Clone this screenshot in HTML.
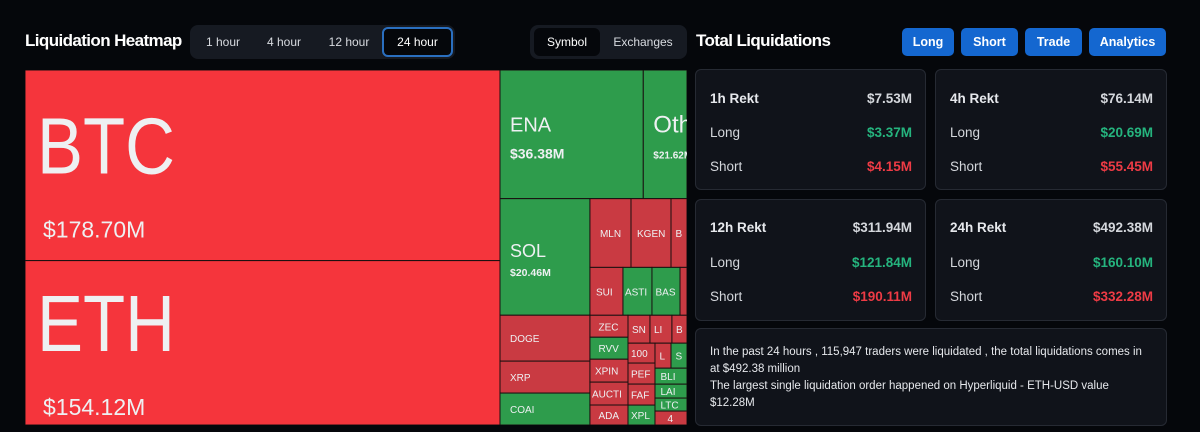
<!DOCTYPE html>
<html><head><meta charset="utf-8"><style>
*{box-sizing:border-box;margin:0;padding:0}
body{width:1200px;height:432px;background:#05070b;font-family:"Liberation Sans",sans-serif;color:#e6e8ec;position:relative;overflow:hidden}
.abs{position:absolute}
.title{font-weight:bold;font-size:17px;letter-spacing:-0.6px;color:#fff}
.seg{background:#161a22;border-radius:8px;height:34px}
.seg span{position:absolute;top:0;height:34px;line-height:34px;font-size:12px;color:#d8dbe0;text-align:center}
.btn{background:#1467d0;color:#fff;font-weight:bold;font-size:12.5px;border-radius:5px;height:28px;line-height:28px;text-align:center}
.card{background:#10131a;border:1px solid #262a33;border-radius:6px}
.row{position:absolute;left:14px;right:13px;font-size:13.5px;color:#d4d7dc}
.row b{color:#e6e8ec}
.row .v{position:absolute;right:0;top:0;font-weight:bold}
.g{color:#25b47e}.r{color:#ee3b45}
</style></head><body>
<div class="abs title" style="left:25px;top:31px">Liquidation Heatmap</div>
<div class="abs seg" style="left:190px;top:25px;width:265px">
<span style="left:6px;width:54px">1 hour</span>
<span style="left:66px;width:56px">4 hour</span>
<span style="left:128px;width:62px">12 hour</span>
<span style="left:192px;width:71px;top:2px;height:30px;line-height:26px;background:#05070b;border:2px solid #2a6fc0;border-radius:6px;color:#fff">24 hour</span>
</div>
<div class="abs seg" style="left:530px;top:25px;width:157px">
<span style="left:4px;top:3px;height:28px;line-height:28px;width:66px;background:#05070b;border-radius:6px;color:#fff">Symbol</span>
<span style="left:76px;width:74px">Exchanges</span>
</div>
<div class="abs title" style="left:696px;top:31px">Total Liquidations</div>
<div class="abs btn" style="left:902px;top:28px;width:52px">Long</div>
<div class="abs btn" style="left:961px;top:28px;width:57px">Short</div>
<div class="abs btn" style="left:1025px;top:28px;width:57px">Trade</div>
<div class="abs btn" style="left:1089px;top:28px;width:77px">Analytics</div>

<svg class="abs" style="left:0;top:0" width="1200" height="432" id="tm"></svg>

<div class="abs card" style="left:695px;top:69px;width:231px;height:121px">
<div class="row" style="top:21px"><b>1h Rekt</b><span class="v">$7.53M</span></div>
<div class="row" style="top:55px">Long<span class="v g">$3.37M</span></div>
<div class="row" style="top:89px">Short<span class="v r">$4.15M</span></div></div>
<div class="abs card" style="left:935px;top:69px;width:232px;height:121px">
<div class="row" style="top:21px"><b>4h Rekt</b><span class="v">$76.14M</span></div>
<div class="row" style="top:55px">Long<span class="v g">$20.69M</span></div>
<div class="row" style="top:89px">Short<span class="v r">$55.45M</span></div></div>
<div class="abs card" style="left:695px;top:199px;width:231px;height:122px">
<div class="row" style="top:20px"><b>12h Rekt</b><span class="v">$311.94M</span></div>
<div class="row" style="top:55px">Long<span class="v g">$121.84M</span></div>
<div class="row" style="top:89px">Short<span class="v r">$190.11M</span></div></div>
<div class="abs card" style="left:935px;top:199px;width:232px;height:122px">
<div class="row" style="top:20px"><b>24h Rekt</b><span class="v">$492.38M</span></div>
<div class="row" style="top:55px">Long<span class="v g">$160.10M</span></div>
<div class="row" style="top:89px">Short<span class="v r">$332.28M</span></div></div>
<div class="abs card" style="left:695px;top:328px;width:472px;height:98px;padding:15px 14px;font-size:11.5px;line-height:17px;color:#e6e8ec">
In the past 24 hours , 115,947 traders were liquidated , the total liquidations comes in at $492.38 million<br>The largest single liquidation order happened on Hyperliquid - ETH-USD value $12.28M</div>

<script>
const names=["BTC","ETH","ENA","Others","SOL","DOGE","XRP","COAI","MLN","KGEN","B1","SUI","ASTER","BAS","X1","ZEC","RVV","XPIN","AUCTI","ADA","SN","LINK","B2","100","PEPE","FARTCOIN","XPL","LTX","S","BLIL","LAI","LTC","4"];
const printed=["$178.70M","$154.12M","$36.38M","$21.62M","$20.46M","","","","","","","","","","","","","","","","","","","","","","","","","","","",""];
const weights=[178.70,154.12,36.38,11.1,20.7,8.15,5.67,5.67,5.57,5.43,2.17,3.12,2.74,2.65,0.66,1.65,1.65,1.72,1.72,1.5,1.21,1.21,0.83,1.06,1.12,1.12,1.06,0.79,0.79,1.01,0.88,0.82,0.88];
const sides=["short","short","long","long","long","short","short","long","short","short","short","short","long","long","short","short","long","short","short","short","short","short","short","short","short","short","long","short","long","long","long","long","short"];
const shownNames={B1:"B",B2:"B",X1:"",LINK:"LI",PEPE:"PEF",FARTCOIN:"FAF",LTX:"L",BLIL:"BLI",AUCTI:"AUCTI",ASTER:"ASTI",BAS:"BAS",Others:"Others",XPL:"XPL",LAI:"LAI",LTC:"LTC"};
const tree=["h",[["v",[0,1]],["v",[["h",[2,3]],["h",[["v",[4,5,6,7]],["v",[["h",[8,9,10]],["h",[11,12,13,14]],["h",[["v",[15,16,17,18,19]],["v",[["h",[20,21,22]],["h",[["v",[23,24,25,26]],["v",[["h",[27,28]],29,30,31,32]]]]]]]]]]]]]]]];
const box={x:25,y:70,w:662,h:355};
const svg=document.getElementById('tm');
const NS="http://www.w3.org/2000/svg";
function total(n){return typeof n==="number"?weights[n]:n[1].reduce((s,c)=>s+total(c),0);}
function layout(n,x,y,w,h){
  if(typeof n==="number"){draw(n,x,y,w,h);return;}
  const t=total(n);let off=0;
  n[1].forEach(c=>{const f=total(c)/t;
    if(n[0]==="h"){layout(c,x+off,y,w*f,h);off+=w*f;}else{layout(c,x,y+off,w,h*f);off+=h*f;}});
}
function txt(s,x,y,size,weight){const t=document.createElementNS(NS,'text');t.setAttribute('x',x);t.setAttribute('y',y);t.setAttribute('font-size',size);t.setAttribute('fill','#eef0f2');if(weight)t.setAttribute('font-weight',weight);t.textContent=s;return t;}
function draw(i,x,y,w,h){
  const g=document.createElementNS(NS,'g');
  
  
  const r=document.createElementNS(NS,'rect');
  r.setAttribute('x',x);r.setAttribute('y',y);r.setAttribute('width',w);r.setAttribute('height',h);
  const big=i<2;
  r.setAttribute('fill',sides[i]==="long"?'#2e9c4c':(big?'#f5353c':'#c93a42'));
  r.setAttribute('stroke','#1a1010');r.setAttribute('stroke-width','1');
  g.appendChild(r);
  const nm=shownNames[names[i]]!==undefined?shownNames[names[i]]:names[i];
  const cy=y+h/2;
  if(big){const t=txt(nm,x+12,cy+8,80,null);t.setAttribute('textLength',nm.length*46);t.setAttribute('lengthAdjust','spacingAndGlyphs');g.appendChild(t);g.appendChild(txt(printed[i],x+18,cy+72,23,null));}
  else if(h>100&&w<60){g.appendChild(txt(nm,x+10,cy-2,24,null));g.appendChild(txt(printed[i],x+10,cy+24,10,'bold'));}
  else if(w*h>15000){g.appendChild(txt(nm,x+10,cy-3,20,null));g.appendChild(txt(printed[i],x+10,cy+24,14,'bold'));}
  else if(w*h>8000){g.appendChild(txt(nm,x+10,cy,18,null));g.appendChild(txt(printed[i],x+10,cy+19,10.5,'bold'));}
  else if(nm){g.appendChild(txt(nm,x+(w>60?10:Math.max(2,(w-nm.length*7)/2)),cy+4,10,null));}
  svg.appendChild(g);
}
const clip=document.createElementNS(NS,'clipPath');clip.id='c';
const cr=document.createElementNS(NS,'rect');cr.setAttribute('x',box.x);cr.setAttribute('y',box.y);cr.setAttribute('width',box.w);cr.setAttribute('height',box.h);clip.appendChild(cr);svg.appendChild(clip);
svg.setAttribute('clip-path','url(#c)');
layout(tree,box.x,box.y,box.w,box.h);
</script>
</body></html>
